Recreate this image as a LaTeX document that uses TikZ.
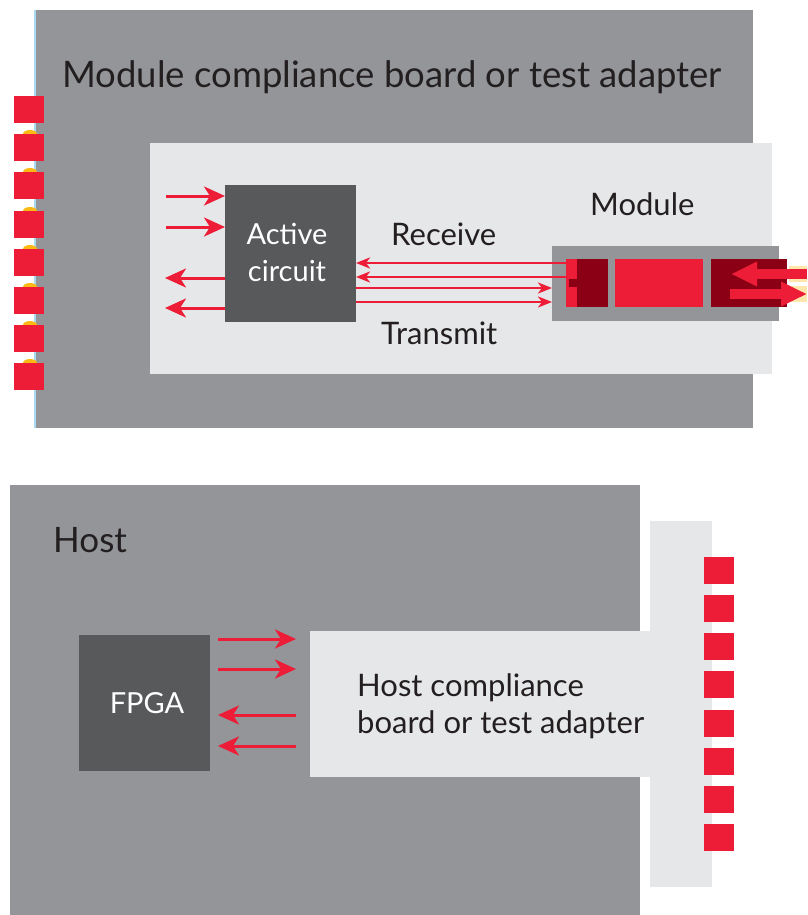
\documentclass[tikz,border=0pt]{standalone}
\usepackage{fontspec}
\setmainfont{Lato}
\usetikzlibrary{arrows.meta}
\definecolor{boardgray}{HTML}{939598}
\definecolor{lightpanel}{HTML}{E6E7E8}
\definecolor{darkbox}{HTML}{58595B}
\definecolor{sigred}{HTML}{ED1C37}
\definecolor{darkred}{HTML}{8B0014}
\definecolor{txt}{HTML}{231F20}
\definecolor{edgeblue}{HTML}{A9DCF2}
\definecolor{glow}{HTML}{FDB913}
\tikzset{
  blk/.style={draw=none, inner sep=0pt, outer sep=0pt, anchor=north west},
  pad/.style={blk, fill=sigred, minimum width=30pt, minimum height=27pt},
  lbl/.style={text=txt, inner sep=0pt, anchor=base west, font=\fontsize{31}{37}\selectfont},
  wlbl/.style={text=white, inner sep=0pt, align=center, font=\fontsize{29}{37}\selectfont},
  bigarr/.style={draw=sigred, line width=3pt, -{Stealth[length=21pt, width=19pt, inset=6pt]}},
  smallarr/.style={draw=sigred, line width=2.5pt, -{Stealth[length=14pt, width=11pt, inset=4pt]}},
  modarr/.style={draw=sigred, line width=10pt, -{Triangle[length=26pt, width=23pt]}}
}
\begin{document}
\begin{tikzpicture}[x=1pt,y=-1pt]
\useasboundingbox (0,0) rectangle (807,915);
\fill[white] (0,0) rectangle (807,915);

% ---------------- upper board ----------------
\node[blk, fill=boardgray, minimum width=718pt, minimum height=418pt] (mcb) at (35,10) {};
\draw[edgeblue, line width=1.2pt] (mcb.north west) -- (mcb.south west);
\node[lbl, font=\fontsize{36.5}{40}\selectfont] (mcbt) at (62,88) {Module compliance board or test adapter};

% glows and pads on the left edge
\foreach \y in {134,172,211,249,287,325,363} {
  \fill[glow] (30,\y) ellipse (7pt and 4pt);
}
\foreach \i/\y in {1/96,2/134,3/172,4/211,5/249,6/287,7/325,8/363} {
  \node[pad] (lp\i) at (14,\y) {};
}

% light inner panel
\node[blk, fill=lightpanel, minimum width=622pt, minimum height=231pt] (inner) at (150,143) {};

% active circuit
\node[blk, fill=darkbox, minimum width=131pt, minimum height=137pt] (ac) at (225,185) {};
\node[wlbl] (act) at (287,252) {Active\\circuit};

% module
\node[lbl] (modt) at (590,215) {Module};
\node[blk, fill=boardgray, minimum width=227pt, minimum height=75pt] (mod) at (552,246) {};
\node[blk, fill=sigred, minimum width=11pt, minimum height=48pt] (mA) at (566,259) {};
\node[blk, fill=darkred, minimum width=31pt, minimum height=48pt] (mB) at (577,259) {};
\fill[darkred] (569,279) rectangle (577,287);
\node[blk, fill=sigred, minimum width=88pt, minimum height=48pt] (mC) at (615,259) {};
\node[blk, fill=darkred, minimum width=76pt, minimum height=48pt] (mD) at (711,259) {};

% optical arrows
\coordinate (oin) at (807,274);
\coordinate (oinT) at (731,274);
\coordinate (ooutS) at (730,294);
\coordinate (oout) at (807,294);
\draw[glow, line width=16pt, opacity=0.35] (789,274) -- (807,274);
\draw[glow, line width=16pt, opacity=0.35] (789,294) -- (807,294);
\draw[modarr] (oin) -- (oinT);
\draw[modarr] (ooutS) -- (oout);

% receive / transmit
\node[lbl] (rxt) at (391,245) {Receive};
\node[lbl] (txt) at (381,344) {Transmit};
\coordinate (r1) at (566,263);
\coordinate (r2) at (566,277);
\coordinate (t1) at (552,288);
\coordinate (t2) at (552,302);
\draw[smallarr] (r1) -- (r1 -| ac.east);
\draw[smallarr] (r2) -- (r2 -| ac.east);
\draw[smallarr] (t1 -| ac.east) -- (t1);
\draw[smallarr] (t2 -| ac.east) -- (t2);

% left arrows of active circuit
\coordinate (i1) at (166,196);
\coordinate (i2) at (166,227);
\coordinate (o1) at (165,278);
\coordinate (o2) at (165,308);
\draw[bigarr] (i1) -- (i1 -| ac.west);
\draw[bigarr] (i2) -- (i2 -| ac.west);
\draw[bigarr] (o1 -| ac.west) -- (o1);
\draw[bigarr] (o2 -| ac.west) -- (o2);

% ---------------- lower board ----------------
\node[blk, fill=boardgray, minimum width=630pt, minimum height=430pt] (host) at (10,485) {};
\node[lbl, font=\fontsize{35}{40}\selectfont] (hostt) at (53,552) {Host};

\node[blk, fill=lightpanel, minimum width=62pt, minimum height=366pt] (hcv) at (650,521) {};
\node[blk, fill=lightpanel, minimum width=341pt, minimum height=146pt] (hch) at (310,631) {};
\node[lbl, align=left, anchor=north west] (hct) at (357,673) {Host compliance\\board or test adapter};

\foreach \i/\y in {1/557,2/595,3/633,4/671,5/710,6/748,7/786,8/824} {
  \node[pad] (rp\i) at (704,\y) {};
}

\node[blk, fill=darkbox, minimum width=131pt, minimum height=136pt] (fp) at (79,635) {};
\node[wlbl] (fpt) at (147,703) {FPGA};

\coordinate (f1) at (296,639);
\coordinate (f2) at (296,669);
\coordinate (f3) at (296,715);
\coordinate (f4) at (296,746);
\draw[bigarr] ([xshift=8pt]fp.east |- f1) -- (f1);
\draw[bigarr] ([xshift=8pt]fp.east |- f2) -- (f2);
\draw[bigarr] (f3) -- ([xshift=8pt]fp.east |- f3);
\draw[bigarr] (f4) -- ([xshift=8pt]fp.east |- f4);
\end{tikzpicture}
\end{document}
